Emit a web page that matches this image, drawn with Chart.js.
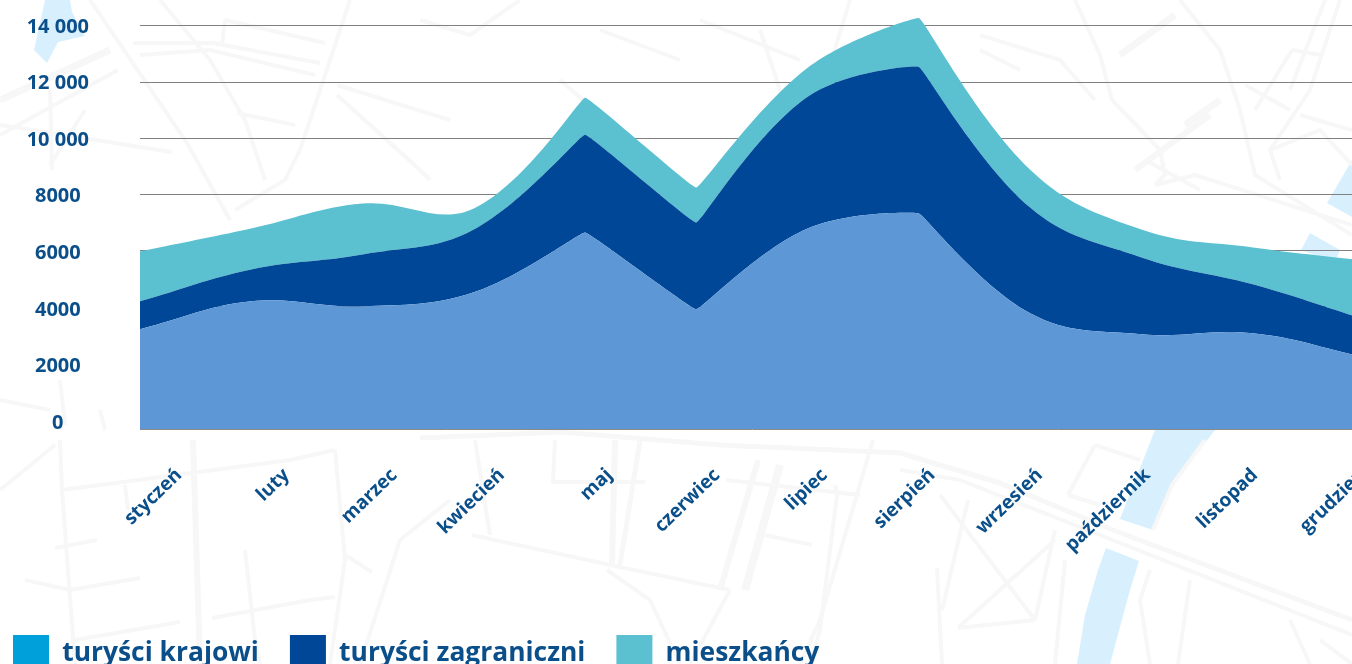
<!DOCTYPE html>
<html lang="pl"><head><meta charset="utf-8">
<script src="https://cdn.jsdelivr.net/npm/chart.js@4"></script>
<style>
html,body{margin:0;padding:0;background:#fff;overflow:hidden;width:1352px;height:664px}
#map{position:absolute;left:0;top:0}
#c{position:absolute;left:-18px;top:0}
</style></head><body>
<svg id="map" width="1352" height="664" viewBox="0 0 1352 664" xmlns="http://www.w3.org/2000/svg">
<g fill="#d8f0fd">
<path d="M45 0L70 0L72 12L85 36L58 42L47 63L34 50Z"/>
<path d="M1155 430L1215 430L1172 485L1153 530L1120 519Z"/>
<path d="M1106 548L1139 561L1130 590L1110 664L1077 664L1085 615L1098 570Z"/>
<path d="M1352 160L1327 203L1352 217Z"/>
<path d="M1310 233L1340 250L1335 262L1301 250Z"/>
</g>
<g fill="none" stroke="#f7f7f7" stroke-width="4" stroke-linejoin="round">
<path d="M90 0L187 143L230 220"/><path d="M160 0L210 60L245 120L265 180"/>
<path d="M133 43L213 43L320 63"/><path d="M140 55L210 50L315 75"/>
<path d="M225 20L325 43M225 20L222 45"/><path d="M350 0L330 60L300 150L285 180L235 210"/>
<path d="M0 100L110 50" stroke-width="7"/><path d="M0 135L118 70"/><path d="M0 125L172 152"/>
<path d="M237 113L295 125"/><path d="M337 85L450 120"/><path d="M337 95L420 170L430 180"/>
<path d="M50 90L52 170M85 110L50 165"/>
<path d="M1075 0L1100 55L1112 100L1160 150L1165 175L1155 185"/><path d="M1180 0L1220 50L1240 110L1255 175L1352 235"/>
<path d="M1120 55L1175 15" stroke-width="7"/><path d="M1135 170L1210 115" stroke-width="6"/><path d="M1185 125L1220 100" stroke-width="7"/>
<path d="M980 35L1060 60L1095 100"/><path d="M980 50L1020 70"/><path d="M1155 185L1195 175L1352 225"/>
<path d="M1340 0L1310 90L1270 150L1280 180"/><path d="M1325 0L1290 90"/><path d="M1292 50L1255 110"/><path d="M1292 50L1320 55"/>
<path d="M1245 85L1290 110"/><path d="M1300 115L1352 130"/><path d="M1270 150L1320 130L1352 165"/>
<path d="M1145 160L1200 190"/><path d="M420 20L470 35L520 0M600 30L680 60M760 30L790 120M560 80L640 150"/>
<path d="M700 20L800 60M850 0L810 130"/>
<path d="M60 440L62 490L75 664"/><path d="M0 490L55 445"/><path d="M62 490L290 460L335 450"/>
<path d="M125 485L128 510"/><path d="M55 548L97 540"/><path d="M25 580L70 590L140 578"/>
<path d="M75 640L180 622"/><path d="M193 440L200 664" stroke-width="6"/><path d="M245 550L255 640L260 664"/>
<path d="M212 618L310 600L335 597"/><path d="M335 450L345 560L330 664"/><path d="M345 555L372 572"/><path d="M450 500L400 540L360 664"/>
<path d="M0 400L50 410M60 380L65 425M100 410L105 430"/>
<path d="M420 438L560 432L720 445L900 453L1000 483L1113 530L1352 620" stroke-width="5"/>
<path d="M472 535L610 565L730 590"/><path d="M615 440L612 565" stroke-width="6"/><path d="M640 440L620 565" stroke-width="5"/>
<path d="M475 440L490 535"/><path d="M555 440L553 482L645 482"/><path d="M607 570L650 600L680 664"/><path d="M730 590L690 664"/>
<path d="M726 480L860 495"/><path d="M758 460L720 590" stroke-width="6"/><path d="M780 465L745 590" stroke-width="8"/><path d="M765 535L812 545"/>
<path d="M835 485L837 495L820 630L810 664"/><path d="M873 440L820 620L800 664"/>
<path d="M900 470L960 480L1105 537L1352 635"/>
<path d="M968 500L942 610"/><path d="M940 495L1035 620"/><path d="M1035 620L958 628"/><path d="M1055 540L958 628"/><path d="M1055 530L1035 620"/>
<path d="M1065 560L1055 664"/><path d="M937 568L942 664"/><path d="M1068 495L1095 445"/><path d="M1068 495L1100 505"/><path d="M1095 445L1140 460"/>
<path d="M1190 580L1178 664"/><path d="M1150 570L1140 600L1150 664"/><path d="M1205 440L1172 485L1153 530"/>
<path d="M1290 620L1310 664M1320 640L1352 664"/>
</g>
</svg>
<canvas id="c" width="1382" height="681"></canvas>
<script>
const months = ["styczeń","luty","marzec","kwiecień","maj","czerwiec","lipiec","sierpień","wrzesień","październik","listopad","grudzień"];
const domestic = [3315,4302,4126,4619,6735,4020,6876,7405,3879,3138,3173,2327];
const foreign  = [987,1128,1833,2221,3455,3067,4654,5183,3737,2715,1728,1340];
const residents= [1763,1446,1798,741,1305,1235,1023,1728,1340,987,1305,2080];
const seriesNames = ["turyści krajowi","turyści zagraniczni","mieszkańcy"];
const areaColors = ["#5e97d6","#004897","#5bc0d0"];
const legendColors = ["#00a0da","#004897","#5bc0d0"];
const yTickValues = [0,2000,4000,6000,8000,10000,12000,14000];
const yTickLabels = ["0","2000","4000","6000","8000","10 000","12 000","14 000"];
const sharpMonths = ["maj","czerwiec","sierpień"];
const textColor = "#0b4f8a";
const FONT = "'Open Sans'";

const tickPlacement = {
  id:'tickPlacement',
  afterLayout(chart){
    const s = chart.scales.xl;
    s._startPixel = 197; s._length = 107.6*11; s._endPixel = s._startPixel + s._length; s._labelItems = null;
  },
  afterDatasetsUpdate(chart){
    chart.data.datasets.forEach((d,di)=>{
      const meta = chart.getDatasetMeta(di);
      meta.dataset.updateControlPoints(chart.chartArea,'x');
      meta.data.forEach((p,i)=>{
        if(sharpMonths.includes(months[i])){
          const k=0.12;
          p.cp1x=p.x+(p.cp1x-p.x)*k; p.cp1y=p.y+(p.cp1y-p.y)*k;
          p.cp2x=p.x+(p.cp2x-p.x)*k; p.cp2y=p.y+(p.cp2y-p.y)*k;
        }
      });
    });
  }
};
const useTicks = s => { s.ticks = yTickValues.map(v=>({value:v})); };
const noPad = s => { s.paddingTop=s.paddingBottom=s.paddingLeft=s.paddingRight=0; };

new Chart(document.getElementById('c').getContext('2d'),{
  type:'line',
  plugins:[tickPlacement],
  data:{labels:months,datasets:[
    {label:seriesNames[0],data:domestic,backgroundColor:areaColors[0],fill:'start'},
    {label:seriesNames[1],data:foreign,backgroundColor:areaColors[1],fill:'-1'},
    {label:seriesNames[2],data:residents,backgroundColor:areaColors[2],fill:'-1'}
  ]},
  options:{
    responsive:false,animation:false,devicePixelRatio:1,
    layout:{autoPadding:false,padding:{top:12,left:0,right:0,bottom:0}},
    elements:{point:{radius:0,hoverRadius:0},line:{borderWidth:0,tension:0.4}},
    plugins:{
      tooltip:{enabled:false},
      legend:{position:'bottom',align:'start',
        labels:{boxWidth:36,boxHeight:36,padding:31,color:textColor,font:{family:FONT,size:26.4,weight:'700'},
          generateLabels(){return seriesNames.map((t,i)=>({text:t,fillStyle:legendColors[i],strokeStyle:legendColors[i],lineWidth:0,fontColor:textColor,datasetIndex:i}));}
        }
      }
    },
    scales:{
      x:{type:'category',position:'bottom',offset:false,grid:{display:false},border:{display:true,color:'#8a8a8a',width:1},ticks:{display:false},afterFit(s){s.height=0;noPad(s);}},
      xl:{type:'category',position:'bottom',labels:months,offset:false,grid:{display:false,drawTicks:false},border:{display:false},
        ticks:{autoSkip:false,minRotation:44,maxRotation:44,padding:35,color:textColor,font:{family:FONT,size:19,weight:'700'}},
        afterFit(s){s.height=175;noPad(s);}},
      y:{type:'linear',position:'left',stacked:true,min:-212,max:14528,grid:{display:false,drawTicks:false},border:{display:false},
        afterBuildTicks:useTicks,
        ticks:{crossAlign:'center',padding:51,color:textColor,font:{family:FONT,size:20,weight:'700'},
          callback:v=>yTickLabels[yTickValues.indexOf(v)]},
        afterFit(s){s.width=158;noPad(s);}},
      yg:{type:'linear',position:'left',min:-364,max:14498,grid:{color:'#808080',lineWidth:1,drawTicks:false},border:{display:false},
        afterBuildTicks:useTicks,
        ticks:{display:false},afterFit(s){s.width=0;noPad(s);}}
    }
  }
});
</script>
</body></html>
